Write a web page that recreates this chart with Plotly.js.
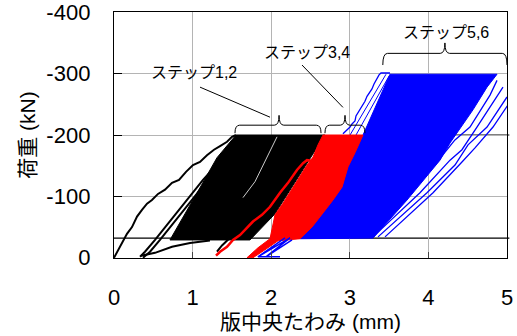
<!DOCTYPE html>
<html>
<head>
<meta charset="utf-8">
<script src="https://cdn.plot.ly/plotly-3.0.1.min.js"></script>
<style>html,body{margin:0;padding:0;background:#fff;}#chart{width:517px;height:336px;}</style>
</head>
<body>
<div id="chart"></div>
<script>
// ---- Data (x: 版中央たわみ mm, y: 荷重 kN) ----
// Step 1,2 (black): initial loading envelope
const blackEnvX = [0, 0.013, 0.051, 0.102, 0.165, 0.229, 0.293, 0.356, 0.420, 0.483, 0.560, 0.649, 0.738, 0.827, 0.916, 1.005, 1.094, 1.183, 1.272, 1.349, 1.438, 1.501, 1.552];
const blackEnvY = [0, -3, -13, -26, -39, -50, -67, -78, -88, -94, -104, -111, -122, -127, -140, -151, -156, -167, -176, -182, -189, -197, -200];
// Step 1,2: dense repeated-loading region outline
const blackFillX = [0.712, 1.730, 2.048, 2.684, 1.552, 1.310, 1.107, 0.712];
const blackFillY = [-29, -29, -71.5, -200, -200, -163, -117, -29];
// Step 1,2: unloading / reloading curves near zero
const blackB1X = [0.331, 0.394, 0.522, 0.649, 0.802, 0.967, 1.132, 1.247];
const blackB1Y = [-1.6, -9.8, -29, -49, -75, -101, -127, -143];
const blackB2X = [0.369, 0.458, 0.585, 0.738, 0.903, 1.056, 1.196];
const blackB2Y = [0, -9.8, -29, -54, -81, -106, -127];
const blackB3X = [0.344, 0.522, 0.738, 0.967, 1.221];
const blackB3Y = [-3.3, -8, -18, -24, -28];
const blackB4X = [1.310, 1.374, 1.476];
const blackB4Y = [-10, -20, -32.5];
const whiteStreakX = [2.074, 1.947, 1.794, 1.641];
const whiteStreakY = [-197, -163, -124, -98];

// Step 3,4 (red)
const redFillX = [2.659, 3.168, 3.066, 2.977, 2.901, 2.786, 2.659, 2.519, 2.366, 2.087, 1.921, 1.768, 1.692, 1.832, 1.985, 2.010, 2.048, 2.150, 2.277, 2.366, 2.455, 2.532, 2.595, 2.659];
const redFillY = [-200, -200, -171, -148, -115, -94, -73, -50, -31, -27.6, -13, 0, 0, -16.3, -31, -45.5, -70, -89, -115, -132, -151, -164, -184, -200];
const redLoopX = [1.298, 1.349, 1.438, 1.514, 1.603, 1.692, 1.768, 1.883, 1.985, 2.112, 2.214, 2.328, 2.405, 2.455, 2.519, 2.494, 2.430, 2.328, 2.214, 2.112];
const redLoopY = [-3.3, -9.8, -18, -29, -37, -49, -59, -70, -83, -106, -122, -143, -154, -159, -158, -146, -133, -111, -89, -73];

// Step 5,6 (blue)
const blueFillX = [3.168, 3.511, 4.873, 4.746, 4.567, 4.275, 4.148, 3.728, 3.295, 2.366, 3.168];
const blueFillY = [-200, -299, -299, -278, -241, -187, -159, -94, -32, -31, -200];
const blueEnvX = [2.913, 2.964, 3.003, 3.028, 3.066, 3.079, 3.104, 3.130, 3.155, 3.193, 3.219, 3.244, 3.282, 3.308, 3.333, 3.372, 3.397, 3.511];
const blueEnvY = [-202, -208, -213, -218, -223, -231, -236, -242, -247, -255, -263, -268, -275, -283, -289, -298, -301, -301];
const blueT1X = [3.003, 3.461];
const blueT1Y = [-200, -299];
const blueT2X = [3.079, 3.499];
const blueT2Y = [-200, -296];
const blueS1X = [3.232, 3.766, 4.109, 4.338, 4.529, 4.784, 4.873];
const blueS1Y = [-34, -106, -156, -192, -213, -265, -289];
const blueS2X = [3.295, 3.893, 4.275, 4.427, 4.618, 4.949];
const blueS2Y = [-34, -106, -159, -176, -213, -278];
const blueS3X = [3.359, 3.982, 4.338, 4.504, 4.746, 5.0];
const blueS3Y = [-34, -106, -151, -184, -213, -262];
const blueS4X = [3.448, 4.059, 4.427, 4.593, 4.822, 5.038];
const blueS4Y = [-34, -106, -156, -179, -213, -254];
const blueLowX = [2.176, 1.832, 2.112, 1.832, 2.239, 1.934, 2.265];
const blueLowY = [-32.5, -1.6, -1.6, -1.6, -32.5, -1.6, -29];

// Reference levels
const lowerLoad = -32;
const upperLoad12 = -200;

// Axis ticks
const xTicks = [0, 1, 2, 3, 4, 5];
const yTicks = [0, -100, -200, -300, -400];

const BLUE = '#0000ff', RED = '#ff0000', BLACK = '#000000';
function ln(x, y, color, w) {
  return {x: x, y: y, type: 'scatter', mode: 'lines', line: {color: color, width: w}, hoverinfo: 'skip', showlegend: false};
}
function fl(x, y, color) {
  return {x: x, y: y, type: 'scatter', mode: 'lines', fill: 'toself', fillcolor: color, line: {color: color, width: 1}, hoverinfo: 'skip', showlegend: false};
}

const traces = [
  fl(blackFillX, blackFillY, BLACK),
  ln(blackEnvX, blackEnvY, BLACK, 2),
  ln(blackB1X, blackB1Y, BLACK, 2),
  ln(blackB2X, blackB2Y, BLACK, 2),
  ln(blackB3X, blackB3Y, BLACK, 2),
  ln(blackB4X, blackB4Y, BLACK, 2),
  ln(whiteStreakX, whiteStreakY, '#ffffff', 0.8),
  fl(blueFillX, blueFillY, BLUE),
  ln(blueEnvX, blueEnvY, BLUE, 1.3),
  ln(blueT1X, blueT1Y, BLUE, 1),
  ln(blueT2X, blueT2Y, BLUE, 1),
  ln(blueS1X, blueS1Y, BLUE, 1.3),
  ln(blueS2X, blueS2Y, BLUE, 1.3),
  ln(blueS3X, blueS3Y, BLUE, 1.3),
  ln(blueS4X, blueS4Y, BLUE, 1.3),
  fl(redFillX, redFillY, RED),
  ln(redLoopX, redLoopY, RED, 2.5),
  ln(blueLowX, blueLowY, BLUE, 1.5)
];

function brace(x0, xt, x1, yEnd, yMid, yTip) {
  const r = 0.06;
  return 'M' + x0 + ',' + yEnd +
    ' Q' + x0 + ',' + yMid + ' ' + (x0 + r) + ',' + yMid +
    ' L' + (xt - r) + ',' + yMid +
    ' Q' + xt + ',' + yMid + ' ' + xt + ',' + yTip +
    ' Q' + xt + ',' + yMid + ' ' + (xt + r) + ',' + yMid +
    ' L' + (x1 - r) + ',' + yMid +
    ' Q' + x1 + ',' + yMid + ' ' + x1 + ',' + yEnd;
}

const FONT = 'Liberation Sans, Arial, Noto Sans CJK JP, sans-serif';

const layout = {
  width: 517, height: 336,
  margin: {l: 114, r: 10, t: 12, b: 78},
  paper_bgcolor: '#ffffff', plot_bgcolor: '#ffffff',
  showlegend: false,
  font: {family: FONT, color: '#000000'},
  xaxis: {
    range: [0, 5], tickvals: xTicks, ticktext: xTicks.map(String),
    showgrid: true, gridcolor: '#b4b4b4', gridwidth: 1,
    zeroline: false, showline: true, linecolor: '#000', linewidth: 1.2, mirror: true,
    ticks: 'inside', ticklen: 6, tickcolor: '#444', tickwidth: 1,
    tickfont: {size: 22, family: FONT}, ticklabelstandoff: 19,
    title: {text: '版中央たわみ (mm)', font: {size: 21, family: FONT}, standoff: 5}
  },
  yaxis: {
    range: [0.4, -400.4], tickvals: yTicks, ticktext: yTicks.map(String),
    showgrid: true, gridcolor: '#b4b4b4', gridwidth: 1,
    zeroline: false, showline: true, linecolor: '#000', linewidth: 1.2, mirror: true,
    ticks: 'inside', ticklen: 8, tickcolor: '#000', tickwidth: 1,
    tickfont: {size: 22, family: FONT}, ticklabelstandoff: 18, ticklabeloverflow: 'allow',
    title: {text: '\u00a0\u00a0\u00a0\u00a0\u00a0荷重 (kN)', font: {size: 21, family: FONT}, standoff: 5}
  },
  shapes: [
    {type: 'line', xref: 'paper', yref: 'y', x0: 0, x1: 1.006, y0: lowerLoad, y1: lowerLoad, line: {color: '#000', width: 1.2}, layer: 'below'},
    {type: 'line', xref: 'paper', yref: 'y', x0: 0.86, x1: 1.006, y0: upperLoad12, y1: upperLoad12, line: {color: '#000', width: 1.2}, layer: 'below'},
    {type: 'path', xref: 'x', yref: 'y', path: brace(1.539, 2.10, 2.634, -203, -216, -232), line: {color: '#000', width: 1}},
    {type: 'path', xref: 'x', yref: 'y', path: brace(2.684, 2.939, 3.193, -203, -216, -232), line: {color: '#000', width: 1}},
    {type: 'path', xref: 'x', yref: 'y', path: brace(3.42, 4.21, 5.0, -314, -333, -350), line: {color: '#000', width: 1}},
    {type: 'line', xref: 'x', yref: 'y', x0: 1.094, y0: -278, x1: 1.985, y1: -229, line: {color: '#000', width: 1}},
    {type: 'line', xref: 'x', yref: 'y', x0: 2.392, y0: -314, x1: 2.913, y1: -245, line: {color: '#000', width: 1}}
  ],
  annotations: [
    {x: 1.018, y: -302, xref: 'x', yref: 'y', text: 'ステップ1,2', showarrow: false, xanchor: 'center', yanchor: 'middle', font: {size: 16, family: FONT}},
    {x: 2.455, y: -335, xref: 'x', yref: 'y', text: 'ステップ3,4', showarrow: false, xanchor: 'center', yanchor: 'middle', font: {size: 16, family: FONT}},
    {x: 4.224, y: -367.5, xref: 'x', yref: 'y', text: 'ステップ5,6', showarrow: false, xanchor: 'center', yanchor: 'middle', font: {size: 16, family: FONT}}
  ]
};

Plotly.newPlot('chart', traces, layout, {staticPlot: true, displayModeBar: false});
</script>
</body>
</html>
